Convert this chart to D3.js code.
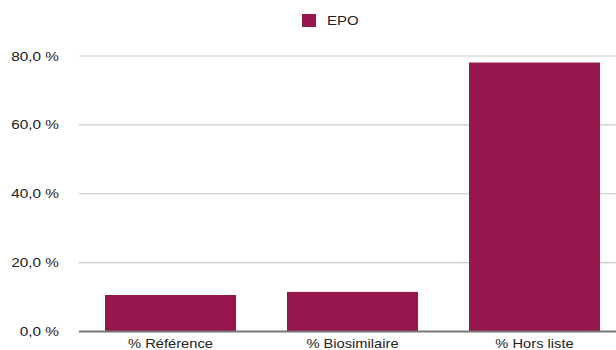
<!DOCTYPE html>
<html><head><meta charset="utf-8">
<script src="https://cdn.jsdelivr.net/npm/d3@7"></script>
<style>html,body{margin:0;padding:0;background:#fff;}svg{display:block;font-family:"Liberation Sans",Arial,Helvetica,sans-serif;}</style>
</head><body>
<script>
const categories = ["% Référence", "% Biosimilaire", "% Hors liste"];
const seriesName = "EPO";
const values = [10.6, 11.5, 78.1];
const yTicks = [0, 20, 40, 60, 80];

const W = 616, H = 350;
const svg = d3.select("body").append("svg").attr("width", W).attr("height", H);
const color = "#96174e";

const x = d3.scaleBand().domain(categories).range([79.5, 625.5]).paddingInner(0.28).paddingOuter(0.14);
const y = d3.scaleLinear().domain([0, 80]).range([331.5, 56]);

// gridlines
svg.append("g").selectAll("line").data(yTicks.filter(d => d > 0)).join("line")
  .attr("x1", 79).attr("x2", W).attr("y1", d => y(d)).attr("y2", d => y(d))
  .attr("stroke", "#c8c8c8").attr("stroke-width", 1.2);

// y labels
const fmt = d => d3.format(".1f")(d).replace(".", ",") + " %";
svg.append("g").selectAll("text").data(yTicks).join("text")
  .attr("transform", d => `translate(59,${y(d)}) scale(1.18,1)`)
  .attr("dy", "0.35em").attr("text-anchor", "end")
  .attr("font-size", 13).attr("fill", "#222").text(fmt);

// bars
svg.append("g").selectAll("rect").data(values).join("rect")
  .attr("x", (d, i) => x(categories[i])).attr("width", x.bandwidth())
  .attr("y", d => y(d)).attr("height", d => y(0) - y(d)).attr("fill", color);

// baseline
svg.append("line").attr("x1", 79).attr("x2", W).attr("y1", y(0)).attr("y2", y(0))
  .attr("stroke", "#777").attr("stroke-width", 2);

// x labels
svg.append("g").selectAll("text").data(categories).join("text")
  .attr("transform", d => `translate(${x(d) + x.bandwidth() / 2},343.5) scale(1.13,1)`)
  .attr("dy", "0.35em")
  .attr("text-anchor", "middle").attr("font-size", 13).attr("fill", "#222").text(d => d);

// legend
const lg = svg.append("g");
lg.append("rect").attr("x", 302).attr("y", 14).attr("width", 14).attr("height", 13).attr("fill", color);
lg.append("text").attr("transform", "translate(327,20.5) scale(1.15,1)").attr("dy", "0.35em")
  .attr("font-size", 13).attr("fill", "#222").text(seriesName);
</script>
</body></html>
